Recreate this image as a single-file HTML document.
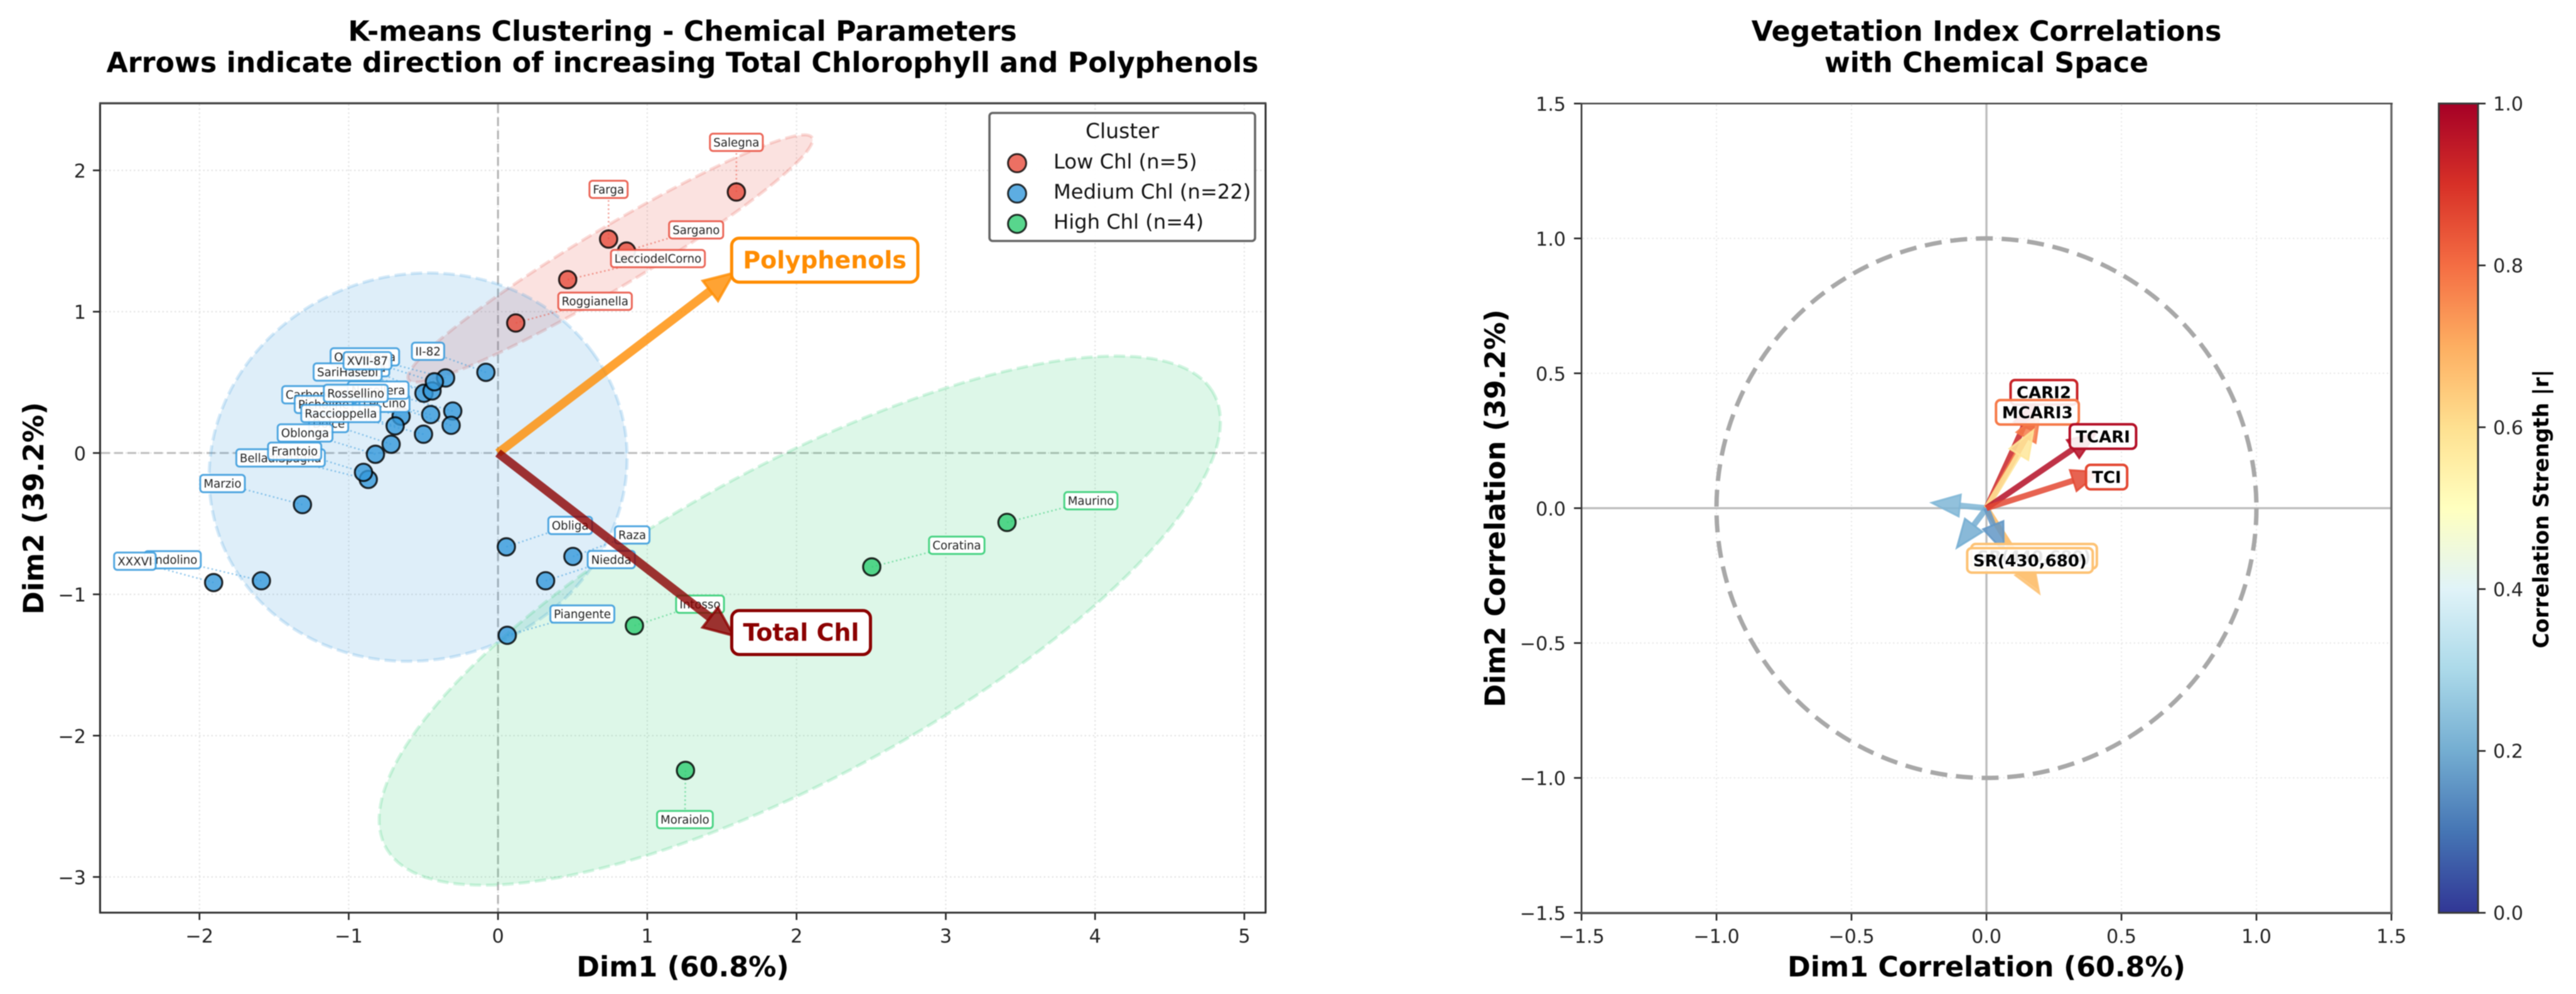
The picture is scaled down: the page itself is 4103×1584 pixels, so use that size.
<!DOCTYPE html>
<html lang="en">
<head>
<meta charset="utf-8">
<title>Chemical parameter clustering and vegetation index correlations</title>
<style>
  html, body { margin: 0; padding: 0; background: #fff; }
  svg { display: block; font-family: "DejaVu Sans", "Liberation Sans", sans-serif; filter: blur(0.9px); }
  .title { font-size: 44.3px; font-weight: 700; text-anchor: middle; fill: #000; }
  .axis-title { font-size: 44.3px; font-weight: 700; text-anchor: middle; fill: #000; }
  .tick { font-size: 30.2px; fill: #222; }
  .legend-text { font-size: 32.2px; fill: #111; }
</style>
</head>
<body>
<svg id="figure" xmlns="http://www.w3.org/2000/svg" width="4103" height="1584" viewBox="0 0 4103 1584">
  <defs>
    <linearGradient id="cbar-gradient" x1="0" y1="1" x2="0" y2="0"></linearGradient>
  </defs>
  <rect x="0" y="0" width="4103" height="1584" fill="#fff"/>

  <text class="title" x="1087" y="65">K-means Clustering - Chemical Parameters</text>
  <text class="title" x="1087" y="115">Arrows indicate direction of increasing Total Chlorophyll and Polyphenols</text>
  <text class="title" x="3164" y="65">Vegetation Index Correlations</text>
  <text class="title" x="3164" y="115">with Chemical Space</text>

  <g id="left-under"></g>
  <g id="left-frame">
    <line x1="159.4" y1="164" x2="159.4" y2="1455" stroke="#2a2a2a" stroke-width="3"/>
    <line x1="158" y1="1454.4" x2="2017" y2="1454.4" stroke="#333" stroke-width="3"/>
    <line x1="2015.8" y1="164" x2="2015.8" y2="1455" stroke="#2a2a2a" stroke-width="3"/>
    <line x1="158" y1="164.6" x2="2017" y2="164.6" stroke="#444" stroke-width="3.4"/>
  </g>
  <text class="axis-title" x="1087.5" y="1556">Dim1 (60.8%)</text>
  <text class="axis-title" transform="translate(69,810) rotate(-90)">Dim2 (39.2%)</text>

  <g id="legend">
    <rect x="1576" y="180" width="423" height="204" rx="5" fill="#fff" fill-opacity="0.96" stroke="#666" stroke-width="3.6"/>
    <text x="1787.6" y="220" text-anchor="middle" font-size="33" fill="#111">Cluster</text>
    <g>
      <circle cx="1620" cy="260" r="14.5" fill="#e74c3c" fill-opacity="0.8" stroke="#000" stroke-opacity="0.8" stroke-width="3"/>
      <text class="legend-text" x="1678" y="268.6">Low Chl (n=5)</text>
    </g>
    <g>
      <circle cx="1620" cy="308.4" r="14.5" fill="#3498db" fill-opacity="0.8" stroke="#000" stroke-opacity="0.8" stroke-width="3"/>
      <text class="legend-text" x="1678" y="316.5">Medium Chl (n=22)</text>
    </g>
    <g>
      <circle cx="1620" cy="356.7" r="14.5" fill="#2ecc71" fill-opacity="0.8" stroke="#000" stroke-opacity="0.8" stroke-width="3"/>
      <text class="legend-text" x="1678" y="364.3">High Chl (n=4)</text>
    </g>
  </g>

  <g id="right-under"></g>
  <g id="right-frame">
    <line x1="2519" y1="164" x2="2519" y2="1456" stroke="#333" stroke-width="2.6"/>
    <line x1="2517" y1="1455" x2="3811" y2="1455" stroke="#4d4d4d" stroke-width="3.4"/>
    <line x1="3809" y1="164" x2="3809" y2="1456" stroke="#666" stroke-width="3.4"/>
    <line x1="2517" y1="165" x2="3811" y2="165" stroke="#444" stroke-width="2.4"/>
  </g>
  <text class="axis-title" x="3164" y="1556">Dim1 Correlation (60.8%)</text>
  <text class="axis-title" transform="translate(2397,810) rotate(-90)">Dim2 Correlation (39.2%)</text>

  <g id="colorbar">
    <rect x="3884.5" y="165" width="62.5" height="1289.6" fill="url(#cbar-gradient)" stroke="#3a3a3a" stroke-width="3"/>
    <text transform="translate(4059,811) rotate(-90)" text-anchor="middle" font-size="33.6" font-weight="700" fill="#000">Correlation Strength |r|</text>
  </g>
</svg>

<script>
// ---------- Cluster plot data (Dim1, Dim2 scores) ----------
const clusterNames = ['Low Chl', 'Medium Chl', 'High Chl'];
const clusterColors = ['#e74c3c', '#3498db', '#2ecc71'];

const lowNames = ['Roggianella', 'LecciodelCorno', 'Farga', 'Sargano', 'Salegna'];
const lowDim1 = [0.119, 0.467, 0.741, 0.861, 1.597];
const lowDim2 = [0.920, 1.227, 1.514, 1.429, 1.847];

const mediumNames = ['Olivastrina', 'Itrana', 'SariHasebi', 'XVII-87', 'II-82', 'Carboncella', 'Picholine', 'Leccino', 'Nocellera', 'Dolce', 'Raccioppella', 'Rossellino', 'Oblonga', 'BelladiSpagna', 'Frantoio', 'Marzio', 'Endolino', 'XXXVI', 'Obliga', 'Raza', 'Niedda', 'Piangente'];
const mediumDim1 = [-0.351, -0.496, -0.442, -0.426, -0.081, -0.649, -0.689, -0.451, -0.303, -0.716, -0.499, -0.314, -0.821, -0.869, -0.901, -1.310, -1.585, -1.905, 0.056, 0.502, 0.319, 0.062];
const mediumDim2 = [0.531, 0.423, 0.439, 0.504, 0.571, 0.260, 0.192, 0.272, 0.297, 0.062, 0.133, 0.196, -0.009, -0.187, -0.137, -0.365, -0.904, -0.917, -0.664, -0.732, -0.904, -1.290];

const highNames = ['Intosso', 'Moraiolo', 'Coratina', 'Maurino'];
const highDim1 = [0.914, 1.256, 2.504, 3.410];
const highDim2 = [-1.222, -2.246, -0.806, -0.491];

const ellipseCenterX = [0.752, -0.535, 2.022];
const ellipseCenterY = [1.376, -0.100, -1.186];
const ellipseWidth = [3.20, 2.847, 6.41];
const ellipseHeight = [0.417, 2.70, 2.17];
const ellipseAngle = [32.4, 34.7, 30.4];

const traitNames = ['Polyphenols', 'Total Chl'];
const traitDim1 = [1.580, 1.578];
const traitDim2 = [1.274, -1.292];
const traitColors = ['#ff8c00', '#8b0000'];

const clusterXTicks = [-2, -1, 0, 1, 2, 3, 4, 5];
const clusterYTicks = [-3, -2, -1, 0, 1, 2];

// ---------- Correlation plot data ----------
const indexNames = ['SR(440,680)', 'SR(430,680)', 'Blue-1', 'Blue-2', 'Blue-3', 'CARI2', 'MCARI3', 'Yellow-1', 'TCARI', 'TCI'];
const indexShowLabel = [true, true, false, false, false, true, true, false, true, true];
const indexDim1 = [0.188, 0.196, -0.203, -0.110, 0.064, 0.181, 0.198, 0.174, 0.407, 0.421];
const indexDim2 = [-0.296, -0.316, 0.020, -0.147, -0.160, 0.398, 0.353, 0.289, 0.278, 0.134];
const indexStrength = [0.66, 0.66, 0.22, 0.20, 0.16, 0.93, 0.78, 0.58, 0.97, 0.86];

const correlationTicks = [-1.5, -1.0, -0.5, 0.0, 0.5, 1.0, 1.5];
const colorbarTicks = [0.0, 0.2, 0.4, 0.6, 0.8, 1.0];
const colormapStops = ['#313695', '#4575b4', '#74add1', '#abd9e9', '#e0f3f8', '#ffffbf', '#fee090', '#fdae61', '#f46d43', '#d73027', '#a50026'];

// ---------- Layout only (annotation placement relative to each mark, in px) ----------
const labelShiftLow = [[126.3, -34.6], [143.7, -33.5], [-0.1, -79.2], [110.9, -33.8], [0, -79.1]];
const labelShiftMedium = [[-128.6, -33.6], [-87.6, -40.7], [-134.4, -30.2], [-106.6, -33.6], [-92.2, -33.5], [-130, -34.3], [-113.9, -34.2], [-73.6, -18], [-118.8, -33.3], [-99.5, -33], [-131.7, -33], [-151.8, -51], [-112.1, -34], [-139.7, -34.3], [-109.7, -33.7], [-127.3, -33.5], [-141.3, -33.4], [-125.4, -34.1], [101.7, -34.1], [94.4, -34.3], [104.6, -33.8], [119.6, -33.9]];
const labelShiftHigh = [[104.5, -34.3], [-0.9, 78.4], [135.4, -34.5], [133.6, -34.5]];
const traitLabelShift = [[144.8, -20.4], [107.6, -4.9]];
const indexLabelShift = [[-5, -50.7], [-15, -52.7], null, null, null, [13.6, -13.6], [-4, -1], null, [10.5, 5.3], [10.3, 8]];

// ---------- Helpers ----------
const SVG_NS = 'http://www.w3.org/2000/svg';
const leftG = document.getElementById('left-under');
const rightG = document.getElementById('right-under');
const cbarG = document.getElementById('colorbar');

function make(parent, tag, attrs, text) {
  const el = document.createElementNS(SVG_NS, tag);
  for (const k in attrs) el.setAttribute(k, attrs[k]);
  if (text !== undefined) el.textContent = text;
  parent.appendChild(el);
  return el;
}
function linear(d0, d1, r0, r1) {
  return v => r0 + (v - d0) * (r1 - r0) / (d1 - d0);
}
function slug(s) {
  return String(s).toLowerCase().replace(/[^a-z0-9]+/g, '-').replace(/^-|-$/g, '');
}
function fmt(v) {
  return String(v).replace('-', '\u2212');
}
function fmt1(v) {
  return v.toFixed(1).replace('-', '\u2212');
}
function hexToRgb(h) {
  return [parseInt(h.slice(1, 3), 16), parseInt(h.slice(3, 5), 16), parseInt(h.slice(5, 7), 16)];
}
function colormap(t) {
  const n = colormapStops.length - 1;
  const p = Math.max(0, Math.min(1, t)) * n;
  const i = Math.min(n - 1, Math.floor(p));
  const a = hexToRgb(colormapStops[i]);
  const b = hexToRgb(colormapStops[i + 1]);
  const f = p - i;
  return 'rgb(' + a.map((c, j) => Math.round(c + (b[j] - c) * f)).join(',') + ')';
}

const xL = linear(-2.6658, 5.1424, 159.4, 2015.8);
const yL = linear(-3.2531, 2.4751, 1454.5, 164.5);
const xR = linear(-1.5, 1.5, 2519, 3809);
const yR = linear(-1.5, 1.5, 1454.6, 165);

// Draws a straight stem plus triangular head, pointing at the end coordinates.
function drawArrow(parent, name, x0, y0, x1, y1, color, stemW, headL, headW, opacity, headStroke) {
  const dx = x1 - x0, dy = y1 - y0, len = Math.hypot(dx, dy) || 1;
  const ux = dx / len, uy = dy / len;
  const bx = x1 - ux * headL, by = y1 - uy * headL;
  const g = make(parent, 'g', {});
  
  
  const stem = make(g, 'line', { x1: x0, y1: y0, x2: bx, y2: by, stroke: color, 'stroke-width': stemW, 'stroke-opacity': opacity });
  
  
  const pts = [[x1, y1], [bx - uy * headW / 2, by + ux * headW / 2], [bx + uy * headW / 2, by - ux * headW / 2]];
  const head = make(g, 'polygon', { points: pts.map(p => p.join(',')).join(' '), fill: color, 'fill-opacity': opacity, stroke: color, 'stroke-opacity': opacity, 'stroke-width': headStroke, 'stroke-linejoin': 'miter' });
  
  
}

// ---------- Cluster plot ----------
clusterXTicks.forEach(v => {
  const grid = make(leftG, 'line', { x1: xL(v), y1: 166, x2: xL(v), y2: 1453, stroke: '#e4e4e4', 'stroke-width': 2.2, 'stroke-dasharray': '2.5 4' });
  
  
  const tick = make(leftG, 'line', { x1: xL(v), y1: 1455, x2: xL(v), y2: 1466, stroke: '#222', 'stroke-width': 2.6 });
  
  
  const label = make(leftG, 'text', { class: 'tick', x: xL(v), y: 1502, 'text-anchor': 'middle' }, fmt(v));
  
  
});
clusterYTicks.forEach(v => {
  const grid = make(leftG, 'line', { x1: 161, y1: yL(v), x2: 2014, y2: yL(v), stroke: '#e4e4e4', 'stroke-width': 2.2, 'stroke-dasharray': '2.5 4' });
  
  
  const tick = make(leftG, 'line', { x1: 148, y1: yL(v), x2: 159, y2: yL(v), stroke: '#222', 'stroke-width': 2.6 });
  
  
  const label = make(leftG, 'text', { class: 'tick', x: 137, y: yL(v) + 11.5, 'text-anchor': 'end' }, fmt(v));
  
  
});
const zeroH = make(leftG, 'line', { x1: 161, y1: yL(0), x2: 2014, y2: yL(0), stroke: '#bdbdbd', 'stroke-width': 3, 'stroke-dasharray': '14 7' });


const zeroV = make(leftG, 'line', { x1: xL(0), y1: 166, x2: xL(0), y2: 1453, stroke: '#b4b4b4', 'stroke-width': 3, 'stroke-dasharray': '14 7' });



// Ellipses are defined in data space, then mapped point by point through the axes.
function ellipsePath(cx, cy, w, h, angleDeg) {
  const a = angleDeg * Math.PI / 180;
  const parts = [];
  for (let i = 0; i < 180; i++) {
    const t = i / 180 * 2 * Math.PI;
    const ex = w / 2 * Math.cos(t), ey = h / 2 * Math.sin(t);
    const dx = cx + ex * Math.cos(a) - ey * Math.sin(a);
    const dy = cy + ex * Math.sin(a) + ey * Math.cos(a);
    parts.push((i ? 'L' : 'M') + xL(dx).toFixed(1) + ' ' + yL(dy).toFixed(1));
  }
  return parts.join(' ') + ' Z';
}
clusterNames.forEach((name, i) => {
  const el = make(leftG, 'path', {
    d: ellipsePath(ellipseCenterX[i], ellipseCenterY[i], ellipseWidth[i], ellipseHeight[i], ellipseAngle[i]),
    fill: clusterColors[i], 'fill-opacity': 0.16, stroke: clusterColors[i], 'stroke-opacity': 0.2,
    'stroke-width': 5, 'stroke-dasharray': '18 8'
  });
  
  
});

const clusters = [
  { key: 'low', names: lowNames, xs: lowDim1, ys: lowDim2, shifts: labelShiftLow, color: clusterColors[0] },
  { key: 'medium', names: mediumNames, xs: mediumDim1, ys: mediumDim2, shifts: labelShiftMedium, color: clusterColors[1] },
  { key: 'high', names: highNames, xs: highDim1, ys: highDim2, shifts: labelShiftHigh, color: clusterColors[2] }
];
const leaderLayer = make(leftG, 'g', {});


const pointLayer = make(leftG, 'g', {});


const labelLayer = make(leftG, 'g', {});



clusters.forEach(c => {
  c.names.forEach((name, i) => {
    const px = xL(c.xs[i]), py = yL(c.ys[i]);
    const lx = px + c.shifts[i][0], ly = py + c.shifts[i][1];

    const leader = make(leaderLayer, 'line', { x1: px, y1: py, x2: lx, y2: ly, stroke: c.color, 'stroke-opacity': 0.5, 'stroke-width': 2.6, 'stroke-dasharray': '2.6 4' });
    
    

    const dot = make(pointLayer, 'circle', { cx: px, cy: py, r: 13.8, fill: c.color, 'fill-opacity': 0.8, stroke: '#000', 'stroke-opacity': 0.82, 'stroke-width': 3.2 });
    
    

    const g = make(labelLayer, 'g', {});
    
    
    const box = make(g, 'rect', { rx: 5, fill: '#fff', 'fill-opacity': 0.92, stroke: c.color, 'stroke-opacity': 0.85, 'stroke-width': 3 });
    
    
    const t = make(g, 'text', { x: lx, y: ly + 6.6, 'text-anchor': 'middle', 'font-size': 18.2, fill: '#222' }, name);
    
    
    const w = t.getComputedTextLength() + 11;
    box.setAttribute('x', lx - w / 2);
    box.setAttribute('y', ly - 13.8);
    box.setAttribute('width', w);
    box.setAttribute('height', 27.6);
  });
});

traitNames.forEach((name, i) => {
  drawArrow(leftG, 'arrow-' + slug(name), xL(0), yL(0), xL(traitDim1[i]), yL(traitDim2[i]), traitColors[i], 14, 47, 40, 0.8, 4);
});
traitNames.forEach((name, i) => {
  const lx = xL(traitDim1[i]) + traitLabelShift[i][0];
  const ly = yL(traitDim2[i]) + traitLabelShift[i][1];
  const g = make(leftG, 'g', {});
  
  
  const box = make(g, 'rect', { rx: 12, fill: '#fff', stroke: traitColors[i], 'stroke-width': 5 });
  
  
  const t = make(g, 'text', { x: lx, y: ly + 13, 'text-anchor': 'middle', 'font-size': 38, 'font-weight': 700, fill: traitColors[i] }, name);
  
  
  const w = t.getComputedTextLength() + 36;
  box.setAttribute('x', lx - w / 2);
  box.setAttribute('y', ly - 35);
  box.setAttribute('width', w);
  box.setAttribute('height', 70);
});

// ---------- Correlation plot ----------
correlationTicks.forEach(v => {
  if (v !== 0 && Math.abs(v) < 1.5) {
    const gridV = make(rightG, 'line', { x1: xR(v), y1: 167, x2: xR(v), y2: 1453, stroke: '#e8e8e8', 'stroke-width': 2, 'stroke-dasharray': '2.5 4' });
    
    
    const gridH = make(rightG, 'line', { x1: 2521, y1: yR(v), x2: 3807, y2: yR(v), stroke: '#e8e8e8', 'stroke-width': 2, 'stroke-dasharray': '2.5 4' });
    
    
  }
  const tickX = make(rightG, 'line', { x1: xR(v), y1: 1455, x2: xR(v), y2: 1467, stroke: '#222', 'stroke-width': 2.6 });
  
  
  const labelX = make(rightG, 'text', { class: 'tick', x: xR(v), y: 1502.5, 'text-anchor': 'middle' }, fmt1(v));
  
  
  const tickY = make(rightG, 'line', { x1: 2507, y1: yR(v), x2: 2519, y2: yR(v), stroke: '#222', 'stroke-width': 2.6 });
  
  
  const labelY = make(rightG, 'text', { class: 'tick', x: 2494, y: yR(v) + 11.5, 'text-anchor': 'end' }, fmt1(v));
  
  
});
const axisH = make(rightG, 'line', { x1: 2520, y1: yR(0), x2: 3808, y2: yR(0), stroke: '#bdbdbd', 'stroke-width': 3.4 });


const axisV = make(rightG, 'line', { x1: xR(0), y1: 166, x2: xR(0), y2: 1454, stroke: '#bdbdbd', 'stroke-width': 3.4 });



const unitCircle = make(rightG, 'ellipse', { cx: xR(0), cy: yR(0), rx: xR(1) - xR(0), ry: yR(0) - yR(1), fill: 'none', stroke: '#a8a8a8', 'stroke-width': 7, 'stroke-dasharray': '27 14' });



indexNames.forEach((name, i) => {
  drawArrow(rightG, 'vector-' + slug(name), xR(0), yR(0), xR(indexDim1[i]), yR(indexDim2[i]), colormap(indexStrength[i]), 9.5, 45, 35, 0.85, 3);
});
indexNames.forEach((name, i) => {
  if (!indexShowLabel[i]) return;
  const lx = xR(indexDim1[i]) + indexLabelShift[i][0];
  const ly = yR(indexDim2[i]) + indexLabelShift[i][1];
  const g = make(rightG, 'g', {});
  
  
  const box = make(g, 'rect', { rx: 7, fill: '#fff', 'fill-opacity': 0.9, stroke: colormap(indexStrength[i]), 'stroke-width': 4 });
  
  
  const t = make(g, 'text', { x: lx, y: ly + 9.5, 'text-anchor': 'middle', 'font-size': 26, 'font-weight': 700, fill: '#000' }, name);
  
  
  const w = t.getComputedTextLength() + 19;
  box.setAttribute('x', lx - w / 2);
  box.setAttribute('y', ly - 19.5);
  box.setAttribute('width', w);
  box.setAttribute('height', 39);
});

// ---------- Colorbar ----------
const gradient = document.getElementById('cbar-gradient');
colormapStops.forEach((c, i) => {
  make(gradient, 'stop', { offset: (i / (colormapStops.length - 1)), 'stop-color': c });
});
const yC = linear(0, 1, 1454.6, 165);
colorbarTicks.forEach(v => {
  const tick = make(cbarG, 'line', { x1: 3947, y1: yC(v), x2: 3959, y2: yC(v), stroke: '#222', 'stroke-width': 2.6 });
  
  
  const label = make(cbarG, 'text', { class: 'tick', x: 3971, y: yC(v) + 11 }, v.toFixed(1));
  
  
});
</script>
</body>
</html>
